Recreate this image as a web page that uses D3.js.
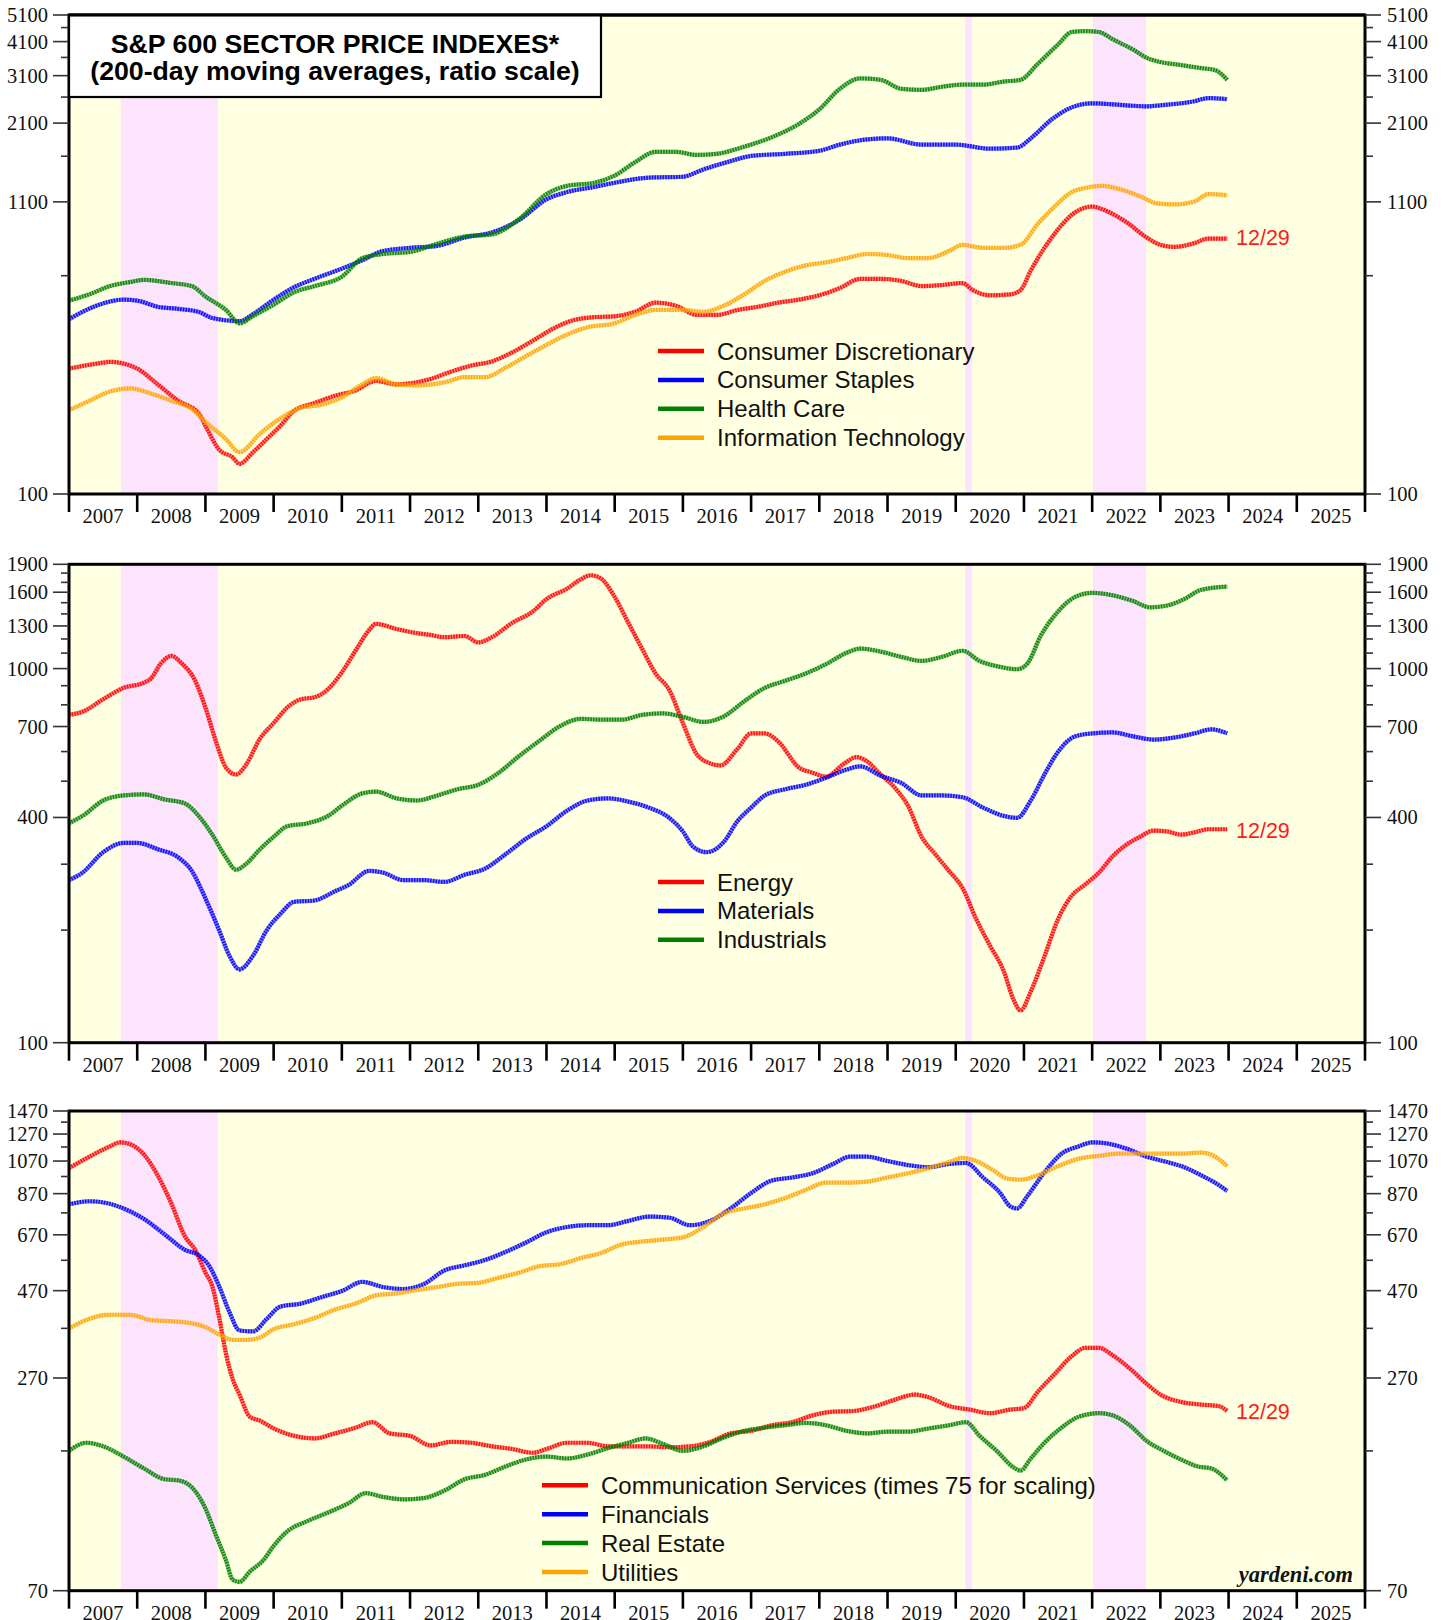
<!DOCTYPE html>
<html><head><meta charset="utf-8">
<script src="https://cdn.jsdelivr.net/npm/d3@7/dist/d3.min.js"></script>
<style>body{margin:0;background:#fff}</style>
</head><body><svg id="c" width="1446" height="1620" xmlns="http://www.w3.org/2000/svg"></svg>
<script>
// ---------------- DATA ----------------
const yearLabels = ["2007","2008","2009","2010","2011","2012","2013","2014","2015","2016","2017","2018","2019","2020","2021","2022","2023","2024","2025"];
const bearMarkets = [[2007.76, 2009.18], [2020.14, 2020.24], [2022.01, 2022.79]];

// Panel 1 axis
const p1Labels = [100, 1100, 2100, 3100, 4100, 5100];
const p1Minor = [600, 1600, 2600, 3600, 4600];
// Panel 2 axis
const p2Labels = [100, 400, 700, 1000, 1300, 1600, 1900];
const p2Minor = [200, 300, 500, 600, 800, 900, 1100, 1200, 1400, 1500, 1700, 1800];
// Panel 3 axis
const p3Labels = [70, 270, 470, 670, 870, 1070, 1270, 1470];
const p3Minor = [170, 370, 570, 770, 970, 1170, 1370];

const consumerDiscretionary = [[2007.0,280],[2007.5,294],[2007.6,296],[2008.0,280],[2008.3,246],[2008.6,215],[2008.9,194],[2009.0,175],[2009.2,144],[2009.4,135],[2009.5,128],[2009.7,141],[2009.9,157],[2010.1,175],[2010.3,198],[2010.6,211],[2010.9,224],[2011.2,234],[2011.5,253],[2011.8,246],[2012.0,248],[2012.3,257],[2012.6,273],[2012.9,287],[2013.2,297],[2013.5,320],[2013.8,352],[2014.1,389],[2014.4,417],[2014.7,427],[2015.0,430],[2015.3,446],[2015.6,481],[2015.9,469],[2016.2,435],[2016.5,435],[2016.8,453],[2017.1,465],[2017.4,481],[2017.7,493],[2018.0,511],[2018.3,542],[2018.6,585],[2018.9,585],[2019.2,575],[2019.5,551],[2019.8,556],[2020.1,565],[2020.25,533],[2020.5,511],[2020.8,515],[2020.95,533],[2021.1,626],[2021.3,754],[2021.5,878],[2021.7,989],[2021.9,1050],[2022.0,1058],[2022.2,1023],[2022.5,932],[2022.8,821],[2023.0,773],[2023.2,760],[2023.5,784],[2023.7,814],[2023.98,814]];
const consumerStaples = [[2007.0,420],[2007.4,469],[2007.8,493],[2008.0,489],[2008.3,465],[2008.6,457],[2008.9,446],[2009.1,424],[2009.5,413],[2009.7,438],[2010.0,493],[2010.3,546],[2010.6,585],[2011.0,636],[2011.3,681],[2011.6,735],[2012.0,754],[2012.4,767],[2012.8,821],[2013.2,856],[2013.6,948],[2014.0,1123],[2014.3,1192],[2014.7,1243],[2015.0,1287],[2015.5,1342],[2016.0,1352],[2016.3,1436],[2016.7,1537],[2017.0,1604],[2017.5,1632],[2018.0,1673],[2018.3,1760],[2018.7,1837],[2019.0,1853],[2019.5,1760],[2020.0,1760],[2020.5,1702],[2020.9,1717],[2021.1,1853],[2021.4,2158],[2021.7,2389],[2022.0,2471],[2022.5,2430],[2022.8,2409],[2023.0,2430],[2023.5,2513],[2023.7,2578],[2023.98,2555]];
const healthCare = [[2007.0,489],[2007.3,515],[2007.6,551],[2007.9,570],[2008.1,580],[2008.5,565],[2008.8,551],[2009.0,506],[2009.3,453],[2009.5,406],[2009.7,431],[2010.0,473],[2010.3,524],[2010.6,551],[2011.0,595],[2011.3,693],[2011.6,717],[2012.0,729],[2012.4,780],[2012.8,828],[2013.2,842],[2013.6,956],[2014.0,1172],[2014.3,1254],[2014.7,1287],[2015.0,1365],[2015.3,1524],[2015.6,1659],[2015.9,1659],[2016.2,1617],[2016.5,1632],[2016.9,1731],[2017.3,1868],[2017.7,2085],[2018.0,2349],[2018.3,2782],[2018.6,3029],[2018.9,2995],[2019.2,2782],[2019.5,2758],[2019.8,2830],[2020.1,2879],[2020.4,2879],[2020.7,2953],[2020.95,2995],[2021.2,3411],[2021.5,4006],[2021.7,4436],[2021.9,4470],[2022.1,4436],[2022.3,4180],[2022.6,3840],[2022.8,3588],[2023.0,3467],[2023.3,3382],[2023.6,3297],[2023.8,3245],[2023.98,2995]];
const informationTechnology = [[2007.0,199],[2007.3,215],[2007.6,232],[2007.9,238],[2008.2,228],[2008.5,215],[2008.8,201],[2009.0,181],[2009.3,157],[2009.5,141],[2009.8,164],[2010.1,186],[2010.4,203],[2010.7,208],[2011.0,221],[2011.3,246],[2011.5,259],[2011.8,246],[2012.1,244],[2012.5,250],[2012.8,261],[2013.1,261],[2013.4,282],[2013.7,310],[2014.0,340],[2014.3,370],[2014.6,393],[2015.0,406],[2015.3,435],[2015.6,453],[2016.0,453],[2016.3,446],[2016.6,469],[2016.9,515],[2017.2,575],[2017.5,620],[2017.8,653],[2018.1,670],[2018.4,693],[2018.7,717],[2019.0,711],[2019.3,693],[2019.6,693],[2019.9,735],[2020.1,773],[2020.4,754],[2020.7,754],[2020.95,773],[2021.2,916],[2021.45,1059],[2021.7,1192],[2021.9,1233],[2022.15,1254],[2022.4,1222],[2022.7,1152],[2022.95,1086],[2023.2,1077],[2023.5,1104],[2023.7,1172],[2023.98,1162]];

const energy = [[2007.0,752],[2007.2,767],[2007.5,828],[2007.8,888],[2008.1,917],[2008.2,940],[2008.35,1034],[2008.5,1081],[2008.65,1034],[2008.85,928],[2009.0,787],[2009.15,642],[2009.3,544],[2009.45,521],[2009.6,555],[2009.8,650],[2010.0,715],[2010.2,787],[2010.4,828],[2010.6,838],[2010.8,882],[2011.0,977],[2011.2,1116],[2011.4,1268],[2011.5,1317],[2011.8,1276],[2012.1,1244],[2012.3,1230],[2012.5,1213],[2012.8,1222],[2013.0,1175],[2013.2,1213],[2013.5,1326],[2013.8,1421],[2014.0,1534],[2014.3,1635],[2014.5,1731],[2014.65,1776],[2014.8,1741],[2015.0,1554],[2015.2,1326],[2015.4,1131],[2015.6,970],[2015.8,877],[2016.0,715],[2016.2,591],[2016.4,558],[2016.55,551],[2016.8,610],[2017.0,671],[2017.2,671],[2017.4,638],[2017.7,544],[2017.9,527],[2018.1,514],[2018.35,555],[2018.55,580],[2018.7,565],[2018.9,521],[2019.1,482],[2019.3,430],[2019.5,355],[2019.7,319],[2019.9,288],[2020.1,259],[2020.3,214],[2020.5,182],[2020.7,156],[2020.85,130],[2020.95,122],[2021.1,137],[2021.3,170],[2021.5,214],[2021.7,247],[2021.9,265],[2022.1,285],[2022.3,315],[2022.5,338],[2022.7,355],[2022.9,369],[2023.1,367],[2023.3,360],[2023.5,365],[2023.7,372],[2023.98,372]];
const materials = [[2007.0,272],[2007.2,285],[2007.5,323],[2007.8,342],[2008.0,342],[2008.3,329],[2008.6,313],[2008.8,288],[2009.0,243],[2009.2,200],[2009.35,171],[2009.5,157],[2009.7,171],[2009.9,200],[2010.1,221],[2010.3,238],[2010.6,240],[2010.9,254],[2011.1,264],[2011.4,288],[2011.6,285],[2011.9,272],[2012.2,272],[2012.5,269],[2012.8,281],[2013.1,292],[2013.4,319],[2013.7,351],[2014.0,379],[2014.3,417],[2014.6,444],[2014.9,450],[2015.2,441],[2015.5,425],[2015.8,399],[2016.0,367],[2016.15,334],[2016.35,323],[2016.6,344],[2016.8,391],[2017.0,425],[2017.2,458],[2017.5,476],[2017.8,489],[2018.1,511],[2018.4,537],[2018.6,548],[2018.9,517],[2019.2,495],[2019.5,458],[2019.8,458],[2020.1,453],[2020.4,425],[2020.7,404],[2020.9,399],[2021.1,444],[2021.3,521],[2021.5,599],[2021.75,659],[2022.0,671],[2022.3,675],[2022.6,659],[2022.9,646],[2023.2,654],[2023.5,671],[2023.75,688],[2023.98,671]];
const industrials = [[2007.0,386],[2007.2,404],[2007.5,444],[2007.8,458],[2008.1,461],[2008.4,447],[2008.7,436],[2008.9,404],[2009.1,360],[2009.3,313],[2009.45,290],[2009.6,301],[2009.8,329],[2010.0,355],[2010.2,379],[2010.5,386],[2010.8,404],[2011.0,430],[2011.3,464],[2011.5,469],[2011.8,450],[2012.1,444],[2012.4,458],[2012.7,476],[2013.0,489],[2013.3,527],[2013.6,584],[2013.9,642],[2014.2,702],[2014.5,734],[2014.8,730],[2015.1,730],[2015.4,752],[2015.7,759],[2016.0,743],[2016.3,720],[2016.6,745],[2016.9,818],[2017.2,888],[2017.5,928],[2017.8,970],[2018.1,1028],[2018.4,1102],[2018.6,1131],[2018.9,1110],[2019.2,1075],[2019.5,1048],[2019.8,1075],[2020.1,1116],[2020.35,1048],[2020.6,1015],[2020.9,996],[2021.05,1031],[2021.25,1228],[2021.5,1421],[2021.75,1554],[2022.0,1594],[2022.3,1570],[2022.6,1515],[2022.85,1458],[2023.1,1474],[2023.35,1534],[2023.6,1624],[2023.98,1656]];

const communicationServices = [[2007.0,1023],[2007.3,1100],[2007.6,1174],[2007.75,1205],[2007.9,1190],[2008.1,1114],[2008.3,977],[2008.5,818],[2008.7,663],[2008.85,609],[2009.0,527],[2009.1,484],[2009.2,398],[2009.3,316],[2009.4,268],[2009.5,243],[2009.65,211],[2009.8,206],[2010.0,196],[2010.3,187],[2010.6,184],[2010.9,190],[2011.2,197],[2011.45,204],[2011.7,190],[2012.0,187],[2012.3,176],[2012.6,180],[2012.9,179],[2013.2,175],[2013.5,172],[2013.8,168],[2014.0,172],[2014.3,179],[2014.6,179],[2014.9,175],[2015.2,175],[2015.5,175],[2015.8,174],[2016.1,175],[2016.4,180],[2016.7,190],[2017.0,193],[2017.3,200],[2017.6,204],[2017.9,213],[2018.2,218],[2018.5,219],[2018.8,225],[2019.1,235],[2019.4,243],[2019.6,239],[2019.9,226],[2020.2,221],[2020.5,216],[2020.8,221],[2021.0,223],[2021.2,247],[2021.45,277],[2021.7,310],[2021.9,327],[2022.1,327],[2022.3,312],[2022.55,287],[2022.8,260],[2023.0,243],[2023.3,232],[2023.6,228],[2023.85,226],[2023.98,219]];
const financials = [[2007.0,813],[2007.3,829],[2007.55,820],[2007.8,792],[2008.1,741],[2008.4,672],[2008.7,609],[2008.9,589],[2009.05,552],[2009.2,484],[2009.35,411],[2009.5,365],[2009.7,363],[2009.9,393],[2010.1,425],[2010.4,433],[2010.7,451],[2011.0,469],[2011.3,497],[2011.6,481],[2011.9,475],[2012.2,490],[2012.5,534],[2012.8,552],[2013.1,571],[2013.4,601],[2013.7,638],[2014.0,681],[2014.3,704],[2014.6,712],[2014.9,712],[2015.2,732],[2015.5,752],[2015.8,747],[2016.1,712],[2016.4,732],[2016.7,792],[2017.0,874],[2017.3,945],[2017.6,964],[2017.9,990],[2018.2,1050],[2018.45,1100],[2018.7,1100],[2019.0,1070],[2019.3,1043],[2019.6,1029],[2019.9,1050],[2020.15,1057],[2020.4,964],[2020.65,874],[2020.8,802],[2020.9,792],[2021.05,857],[2021.3,996],[2021.55,1121],[2021.8,1174],[2022.0,1205],[2022.2,1198],[2022.5,1158],[2022.8,1100],[2023.1,1063],[2023.35,1029],[2023.6,977],[2023.8,933],[2023.98,885]];
const realEstate = [[2007.0,170],[2007.25,179],[2007.5,175],[2007.8,164],[2008.1,152],[2008.4,142],[2008.6,141],[2008.8,135],[2009.0,118],[2009.15,100],[2009.3,85],[2009.4,75],[2009.5,74],[2009.65,79],[2009.85,85],[2010.0,93],[2010.2,102],[2010.5,109],[2010.8,115],[2011.1,122],[2011.35,130],[2011.6,127],[2011.9,125],[2012.2,126],[2012.5,132],[2012.8,142],[2013.1,146],[2013.4,154],[2013.7,161],[2014.0,164],[2014.3,162],[2014.6,166],[2014.9,173],[2015.2,179],[2015.45,184],[2015.7,178],[2016.0,170],[2016.3,175],[2016.6,185],[2016.9,193],[2017.2,197],[2017.5,200],[2017.8,203],[2018.1,200],[2018.4,193],[2018.7,190],[2019.0,192],[2019.3,192],[2019.6,196],[2019.9,200],[2020.15,204],[2020.35,187],[2020.6,170],[2020.85,153],[2020.95,150],[2021.1,162],[2021.3,179],[2021.55,197],[2021.8,211],[2022.1,216],[2022.3,213],[2022.55,200],[2022.8,181],[2023.05,170],[2023.3,161],[2023.55,154],[2023.75,152],[2023.98,141]];
const utilities = [[2007.0,370],[2007.3,393],[2007.55,403],[2007.9,403],[2008.2,390],[2008.5,387],[2008.8,382],[2009.0,373],[2009.2,356],[2009.4,344],[2009.6,344],[2009.8,349],[2010.0,368],[2010.3,380],[2010.6,395],[2010.9,417],[2011.2,433],[2011.5,456],[2011.8,462],[2012.1,472],[2012.4,481],[2012.7,491],[2013.0,494],[2013.3,510],[2013.6,527],[2013.9,549],[2014.2,556],[2014.5,578],[2014.8,597],[2015.1,630],[2015.4,642],[2015.7,650],[2016.0,659],[2016.3,704],[2016.6,767],[2016.9,792],[2017.2,813],[2017.5,846],[2017.8,891],[2018.1,933],[2018.4,933],[2018.7,939],[2019.0,964],[2019.3,990],[2019.6,1023],[2019.9,1063],[2020.1,1092],[2020.3,1070],[2020.55,1009],[2020.75,958],[2020.95,951],[2021.2,977],[2021.5,1036],[2021.8,1085],[2022.1,1106],[2022.4,1121],[2022.7,1121],[2023.0,1121],[2023.3,1121],[2023.6,1129],[2023.75,1114],[2023.98,1036]];

// ---------------- LAYOUT ----------------
const COLORS = {red:"#ff0000", blue:"#0000ff", green:"#008000", orange:"#ffa500"};
const svg = d3.select("#c");
const X0 = 69, X1 = 1365;
const x = d3.scaleLinear().domain([2007, 2026]).range([X0, X1]);

const panels = [
  {top:15, bottom:494, domain:[100,5100], labels:p1Labels, minor:p1Minor,
   series:[["Consumer Discretionary",consumerDiscretionary,COLORS.red],["Consumer Staples",consumerStaples,COLORS.blue],["Health Care",healthCare,COLORS.green],["Information Technology",informationTechnology,COLORS.orange]],
   legendX:658, legendY:351, endLabelY:245},
  {top:564.3, bottom:1042.7, domain:[100,1900], labels:p2Labels, minor:p2Minor,
   series:[["Energy",energy,COLORS.red],["Materials",materials,COLORS.blue],["Industrials",industrials,COLORS.green]],
   legendX:658, legendY:882, endLabelY:838},
  {top:1111, bottom:1590.7, domain:[70,1470], labels:p3Labels, minor:p3Minor,
   series:[["Communication Services (times 75 for scaling)",communicationServices,COLORS.red],["Financials",financials,COLORS.blue],["Real Estate",realEstate,COLORS.green],["Utilities",utilities,COLORS.orange]],
   legendX:542, legendY:1485.3, endLabelY:1419}
];

panels.forEach((p, pi) => {
  const y = d3.scaleLog().domain(p.domain).range([p.bottom, p.top]);
  const g = svg.append("g");
  // background
  g.append("rect").attr("x", X0).attr("y", p.top).attr("width", X1 - X0).attr("height", p.bottom - p.top).attr("fill", "#ffffe2");
  bearMarkets.forEach(b => {
    g.append("rect").attr("x", x(b[0])).attr("y", p.top).attr("width", x(b[1]) - x(b[0])).attr("height", p.bottom - p.top).attr("fill", "#fce4fc");
  });
  // lines (hatched look: light under-stroke + dashed over-stroke)
  const line = d3.line().x(d => x(d[0])).y(d => y(d[1])).curve(d3.curveMonotoneX);
  p.series.forEach(s => {
    g.append("path").datum(s[1]).attr("d", line).attr("fill", "none")
      .attr("stroke", s[2]).attr("stroke-width", 4.2).attr("stroke-linejoin", "round").attr("opacity", 0.45);
    g.append("path").datum(s[1]).attr("d", line).attr("fill", "none")
      .attr("stroke", s[2]).attr("stroke-width", 4.2).attr("stroke-linejoin", "round")
      .attr("stroke-dasharray", "1.6,1.1").attr("opacity", 0.85);
  });
  // legend
  p.series.forEach((s, i) => {
    const ly = p.legendY + i * 28.9;
    g.append("line").attr("x1", p.legendX).attr("x2", p.legendX + 46).attr("y1", ly).attr("y2", ly)
      .attr("stroke", s[2]).attr("stroke-width", 4.5);
    g.append("text").attr("x", p.legendX + 59).attr("y", ly + 8.5).text(s[0])
      .attr("font-family", "Liberation Sans, Arial, sans-serif").attr("font-size", 24).attr("fill", "#111");
  });
  // end label
  g.append("text").attr("x", 1236).attr("y", p.endLabelY).text("12/29")
    .attr("font-family", "Liberation Sans, Arial, sans-serif").attr("font-size", 21.5).attr("fill", "#ff1a1a");
  // border
  g.append("rect").attr("x", X0).attr("y", p.top).attr("width", X1 - X0).attr("height", p.bottom - p.top)
    .attr("fill", "none").attr("stroke", "#000").attr("stroke-width", 3);
  // y ticks left & right
  const tickG = g.append("g").attr("stroke", "#333").attr("stroke-width", 1.6);
  p.labels.forEach(v => {
    tickG.append("line").attr("x1", X0 - 16).attr("x2", X0).attr("y1", y(v)).attr("y2", y(v));
    tickG.append("line").attr("x1", X1).attr("x2", X1 + 16).attr("y1", y(v)).attr("y2", y(v));
  });
  p.minor.forEach(v => {
    tickG.append("line").attr("x1", X0 - 8).attr("x2", X0).attr("y1", y(v)).attr("y2", y(v));
    tickG.append("line").attr("x1", X1).attr("x2", X1 + 8).attr("y1", y(v)).attr("y2", y(v));
  });
  p.labels.forEach(v => {
    g.append("text").attr("x", X0 - 21).attr("y", y(v)).attr("dy", "0.34em").attr("text-anchor", "end").text(v)
      .attr("font-family", "Liberation Serif, Times New Roman, serif").attr("font-size", 20.5).attr("fill", "#111");
    g.append("text").attr("x", X1 + 22).attr("y", y(v)).attr("dy", "0.34em").attr("text-anchor", "start").text(v)
      .attr("font-family", "Liberation Serif, Times New Roman, serif").attr("font-size", 20.5).attr("fill", "#111");
  });
  // x axis
  for (let k = 0; k <= yearLabels.length; k++) {
    g.append("line").attr("x1", x(2007 + k)).attr("x2", x(2007 + k)).attr("y1", p.bottom).attr("y2", p.bottom + 18)
      .attr("stroke", "#000").attr("stroke-width", 2.6);
  }
  yearLabels.forEach((lbl, k) => {
    g.append("text").attr("x", x(2007 + k + 0.5)).attr("y", p.bottom + 29).attr("text-anchor", "middle").text(lbl)
      .attr("font-family", "Liberation Serif, Times New Roman, serif").attr("font-size", 20.5).attr("fill", "#111");
  });
});

// title box
svg.append("rect").attr("x", X0).attr("y", 15).attr("width", 601 - X0).attr("height", 97 - 15)
  .attr("fill", "#fff").attr("stroke", "#000").attr("stroke-width", 2.2);
svg.append("text").attr("x", 335).attr("y", 53).attr("text-anchor", "middle").text("S&P 600 SECTOR PRICE INDEXES*")
  .attr("font-family", "Liberation Sans, Arial, sans-serif").attr("font-weight", "bold").attr("font-size", 26.7).attr("fill", "#000");
svg.append("text").attr("x", 335).attr("y", 80).attr("text-anchor", "middle").text("(200-day moving averages, ratio scale)")
  .attr("font-family", "Liberation Sans, Arial, sans-serif").attr("font-weight", "bold").attr("font-size", 26.7).attr("fill", "#000");
// re-draw top border over title box
svg.append("line").attr("x1", X0).attr("x2", X1).attr("y1", 15).attr("y2", 15).attr("stroke", "#000").attr("stroke-width", 3);

// source
svg.append("text").attr("x", 1353).attr("y", 1582).attr("text-anchor", "end").text("yardeni.com")
  .attr("font-family", "Liberation Serif, Times New Roman, serif").attr("font-weight", "bold").attr("font-style", "italic")
  .attr("font-size", 22.5).attr("fill", "#111");
</script></body></html>
